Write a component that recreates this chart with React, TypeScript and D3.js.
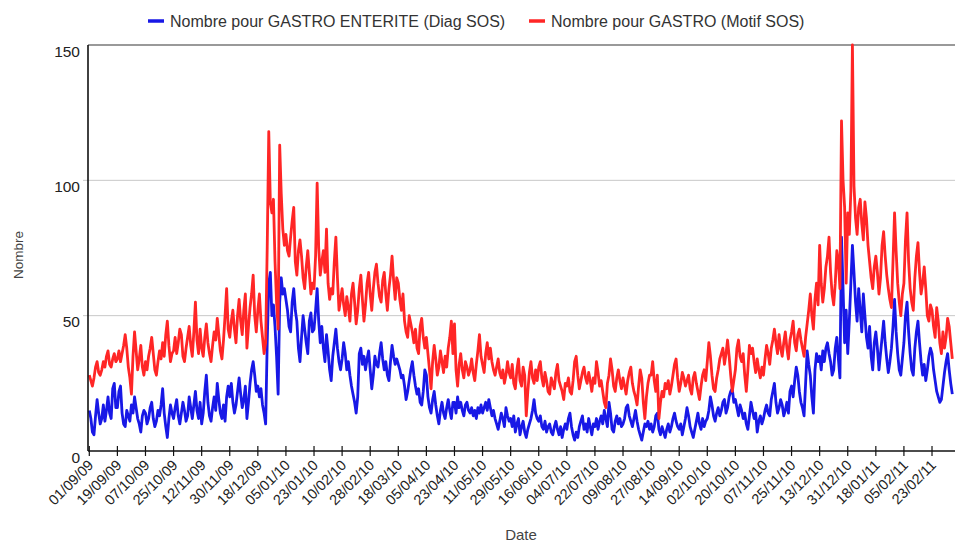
import React from 'react';
import * as d3 from 'd3';

const tickLabels = [
  '01/09/09', '19/09/09', '07/10/09', '25/10/09', '12/11/09', '30/11/09', '18/12/09', '05/01/10',
  '23/01/10', '10/02/10', '28/02/10', '18/03/10', '05/04/10', '23/04/10', '11/05/10', '29/05/10',
  '16/06/10', '04/07/10', '22/07/10', '09/08/10', '27/08/10', '14/09/10', '02/10/10', '20/10/10',
  '07/11/10', '25/11/10', '13/12/10', '31/12/10', '18/01/11', '05/02/11', '23/02/11',
];
const tickStep = 18; // days between two labels
const yTicks = [0, 50, 100, 150];
const seriesNames = ['Nombre pour GASTRO ENTERITE (Diag SOS)', 'Nombre pour GASTRO (Motif SOS)'];
const seriesColors = ['#1818e6', '#ff2626'];

// daily values from 01/09/09
const diagSOS = [
  15, 12, 7, 6, 13, 19, 14, 10, 12, 17, 11, 15, 20, 14, 12, 23, 25, 16,
  16, 22, 24, 14, 10, 9, 15, 13, 11, 17, 14, 20, 16, 12, 10, 7, 13, 15,
  14, 10, 12, 16, 18, 12, 9, 11, 15, 13, 17, 23, 14, 9, 5, 12, 17, 14,
  12, 16, 19, 13, 10, 14, 18, 15, 11, 13, 20, 16, 12, 17, 22, 15, 12, 18,
  10, 14, 22, 28, 18, 13, 11, 16, 20, 15, 25, 19, 14, 12, 17, 11, 20, 24,
  20, 25, 18, 14, 17, 22, 27, 21, 16, 19, 24, 12, 18, 25, 30, 33, 28, 22,
  24, 20, 23, 17, 14, 10, 40, 62, 66, 50, 54, 46, 35, 21, 55, 64, 58, 60,
  56, 52, 46, 44, 55, 60, 52, 48, 38, 33, 42, 50, 45, 40, 36, 48, 51, 44,
  45, 52, 60, 48, 40, 46, 38, 33, 43, 37, 30, 26, 35, 40, 45, 38, 33, 30,
  34, 40, 36, 30, 33, 28, 24, 21, 18, 14, 20, 36, 38, 32, 35, 30, 34, 37,
  30, 23, 28, 35, 32, 31, 36, 40, 34, 30, 33, 28, 26, 33, 39, 35, 32, 34,
  32, 30, 27, 28, 24, 19, 22, 26, 30, 33, 28, 24, 21, 23, 18, 17, 22, 30,
  28, 20, 16, 14, 19, 22, 17, 13, 10, 15, 18, 14, 12, 16, 19, 15, 12, 18,
  18, 14, 20, 16, 18, 15, 13, 17, 18, 15, 14, 16, 13, 15, 12, 16, 14, 17,
  14, 16, 18, 15, 19, 16, 13, 15, 12, 10, 8, 11, 14, 12, 9, 16, 13, 11,
  12, 9, 13, 7, 10, 12, 6, 9, 11, 7, 5, 8, 10, 12, 15, 19, 14, 12,
  11, 13, 9, 8, 11, 7, 9, 10, 7, 6, 9, 11, 8, 6, 9, 5, 8, 10,
  8, 12, 14, 9, 6, 4, 7, 5, 9, 11, 13, 8, 10, 7, 12, 9, 6, 10,
  9, 12, 8, 11, 13, 10, 15, 12, 9, 18, 14, 8, 7, 11, 13, 10, 12, 9,
  10, 12, 16, 17, 13, 11, 9, 12, 15, 11, 8, 6, 4, 7, 10, 9, 11, 8,
  10, 7, 9, 13, 14, 8, 6, 9, 7, 5, 8, 10, 7, 9, 12, 14, 11, 9,
  8, 10, 6, 9, 12, 16, 13, 9, 7, 5, 8, 11, 14, 10, 8, 12, 9, 11,
  12, 15, 20, 17, 13, 11, 14, 16, 13, 15, 18, 19, 14, 16, 20, 22, 23, 18,
  19, 16, 13, 17, 15, 12, 14, 10, 8, 13, 18, 15, 12, 14, 7, 11, 13, 10,
  12, 15, 17, 14, 13, 19, 22, 25, 18, 14, 16, 19, 17, 13, 15, 18, 14, 22,
  24, 20, 26, 31, 28, 22, 18, 16, 13, 25, 37, 32, 28, 20, 14, 30, 36, 33,
  35, 30, 37, 33, 38, 40, 36, 33, 28, 30, 38, 42, 34, 27, 79, 60, 40, 52,
  36, 48, 62, 76, 66, 55, 48, 60, 52, 44, 58, 50, 42, 38, 46, 35, 30, 40,
  44, 38, 30, 36, 42, 48, 40, 34, 29, 33, 38, 46, 56, 44, 36, 30, 28, 34,
  40, 50, 55, 44, 36, 30, 28, 38, 44, 48, 40, 33, 28, 32, 26, 30, 35, 38,
  36, 30, 26, 22, 20, 18, 19, 24, 29, 33, 36, 30, 25, 21,
];

const motifSOS = [
  28, 26, 24, 27, 31, 33, 29, 28, 30, 33, 31, 35, 37, 32, 31, 34, 36, 33,
  34, 37, 33, 36, 39, 43, 38, 31, 27, 21, 35, 44, 37, 30, 34, 39, 31, 28,
  33, 30, 35, 38, 42, 36, 30, 28, 33, 37, 34, 40, 35, 43, 48, 39, 33, 36,
  37, 42, 36, 40, 45, 43, 35, 33, 38, 42, 46, 39, 35, 44, 55, 41, 36, 45,
  38, 35, 42, 47, 40, 36, 33, 39, 44, 41, 49, 43, 37, 34, 41, 50, 60, 45,
  42, 48, 52, 45, 40, 50, 56, 48, 43, 52, 58, 38, 46, 53, 58, 65, 50, 44,
  52, 58, 48, 42, 36, 40, 75, 118, 92, 88, 93, 70, 55, 45, 113, 95, 82, 76,
  80, 74, 72, 79, 85, 90, 70, 65, 74, 78, 72, 64, 60, 68, 74, 66, 58, 62,
  60, 72, 99, 75, 65, 70, 74, 66, 82, 62, 56, 60, 58, 70, 79, 64, 52, 56,
  60, 54, 50, 57, 53, 48, 58, 62, 55, 47, 52, 60, 65, 56, 48, 54, 62, 66,
  58, 52, 60, 66, 69, 62, 57, 55, 63, 66, 58, 52, 60, 65, 72, 63, 56, 64,
  62, 56, 52, 58, 48, 44, 42, 50, 47, 44, 40, 45, 38, 36, 46, 49, 42, 38,
  42, 36, 30, 23, 33, 39, 34, 28, 31, 37, 33, 29, 35, 31, 38, 42, 48, 36,
  47, 30, 24, 32, 36, 30, 27, 33, 31, 28, 30, 34, 29, 26, 32, 37, 43, 35,
  32, 29, 36, 40, 34, 38, 33, 30, 28, 31, 34, 29, 27, 30, 25, 28, 33, 29,
  27, 32, 25, 23, 30, 34, 26, 24, 31, 28, 13, 22, 29, 33, 27, 25, 30, 26,
  31, 33, 27, 24, 29, 26, 22, 21, 27, 25, 23, 29, 32, 26, 24, 22, 19, 25,
  24, 27, 22, 21, 26, 33, 35, 28, 23, 26, 29, 31, 27, 25, 29, 26, 22, 27,
  25, 33, 29, 24, 26, 22, 18, 16, 25, 28, 34, 30, 24, 22, 27, 30, 26, 23,
  27, 24, 21, 26, 29, 31, 25, 22, 20, 17, 24, 30, 27, 18, 12, 20, 25, 28,
  28, 33, 26, 22, 28, 12, 18, 22, 20, 25, 23, 26, 21, 24, 28, 32, 34, 27,
  22, 25, 29, 27, 24, 26, 28, 23, 21, 27, 29, 25, 22, 19, 24, 28, 30, 26,
  33, 40, 35, 28, 23, 22, 27, 30, 34, 36, 38, 32, 36, 41, 35, 28, 22, 26,
  30, 38, 41, 35, 33, 36, 28, 22, 30, 39, 36, 38, 33, 29, 34, 30, 27, 31,
  28, 34, 39, 36, 32, 38, 41, 45, 40, 36, 43, 38, 35, 40, 44, 38, 34, 41,
  44, 48, 40, 37, 43, 45, 41, 38, 35, 42, 47, 52, 58, 50, 45, 56, 62, 54,
  76, 62, 55, 60, 68, 72, 79, 66, 58, 54, 62, 74, 70, 60, 122, 100, 90, 62,
  88, 80, 96, 150, 98, 86, 80, 90, 93, 84, 78, 92, 86, 76, 70, 64, 60, 68,
  72, 66, 58, 64, 76, 81, 72, 65, 60, 56, 53, 70, 88, 74, 62, 55, 50, 58,
  62, 78, 88, 70, 60, 55, 52, 64, 72, 77, 66, 58, 62, 68, 60, 50, 48, 54,
  52, 46, 42, 53, 48, 40, 36, 44, 38, 42, 49, 46, 40, 34,
];

const FONT = '"Liberation Sans", Arial, Helvetica, sans-serif';

export default function App() {
  const W = 964;
  const H = 544;
  const left = 88;
  const right = 955;
  const top = 45;
  const bottom = 451;

  const x = d3.scaleLinear().domain([0, diagSOS.length - 1]).range([89.3, 952.3]);
  const y = d3.scaleLinear().domain([0, 150]).range([bottom, top]);
  const line = d3
    .line<number>()
    .x((_, i) => x(i))
    .y((d) => y(d))
    .curve(d3.curveLinear);

  const series = [diagSOS, motifSOS];

  return (
    <svg
      width={W}
      height={H}
      viewBox={`0 0 ${W} ${H}`}
      style={{ position: 'absolute', left: 0, top: 0, background: '#fff' }}
      fontFamily={FONT}
    >
      <rect x={0} y={0} width={W} height={H} fill="#fff" />

      {/* gridlines */}
      {yTicks.filter((t) => t > 0).map((t) => (
        <line
          key={'g' + t}
          x1={t === 150 ? left : 83}
          x2={right}
          y1={y(t)}
          y2={y(t)}
          stroke={t === 150 ? '#999' : '#c8c8c8'}
          strokeWidth={t === 150 ? 2 : 1}
        />
      ))}

      {/* y labels */}
      {yTicks.map((t) => (
        <text key={'yl' + t} x={80} y={y(t) + 11.5} textAnchor="end" fontSize={15.5} fill="#222">
          {t}
        </text>
      ))}

      {/* series */}
      {series.map((s, k) => (
        <path
          key={'s' + k}
          d={line(s) || ''}
          fill="none"
          stroke={seriesColors[k]}
          strokeWidth={2.8}
          strokeLinejoin="round"
        />
      ))}

      {/* axes */}
      <line x1={left} x2={left} y1={top} y2={bottom} stroke="#111" strokeWidth={1.6} />
      <line x1={left} x2={right} y1={bottom} y2={bottom} stroke="#111" strokeWidth={1.6} />

      {/* x ticks and labels */}
      {tickLabels.map((lab, i) => {
        const tx = x(i * tickStep);
        return (
          <g key={'xt' + i}>
            <line x1={tx} x2={tx} y1={bottom - 5} y2={bottom + 5} stroke="#111" strokeWidth={1.2} />
            <text
              transform={`translate(${tx + 5},${bottom + 15}) rotate(-45)`}
              textAnchor="end"
              fontSize={14.5}
              fill="#222"
            >
              {lab}
            </text>
          </g>
        );
      })}

      {/* axis titles */}
      <text x={521} y={540} textAnchor="middle" fontSize={15} fill="#444">
        Date
      </text>
      <text transform="translate(23,255) rotate(-90)" textAnchor="middle" fontSize={13.5} fill="#444">
        Nombre
      </text>

      {/* legend */}
      <line x1={148} x2={164} y1={21} y2={21} stroke={seriesColors[0]} strokeWidth={3.5} />
      <text x={170} y={26.5} fontSize={16} fill="#333">
        {seriesNames[0]}
      </text>
      <line x1={529} x2={545} y1={21} y2={21} stroke={seriesColors[1]} strokeWidth={3.5} />
      <text x={551} y={26.5} fontSize={16} fill="#333">
        {seriesNames[1]}
      </text>
    </svg>
  );
}
